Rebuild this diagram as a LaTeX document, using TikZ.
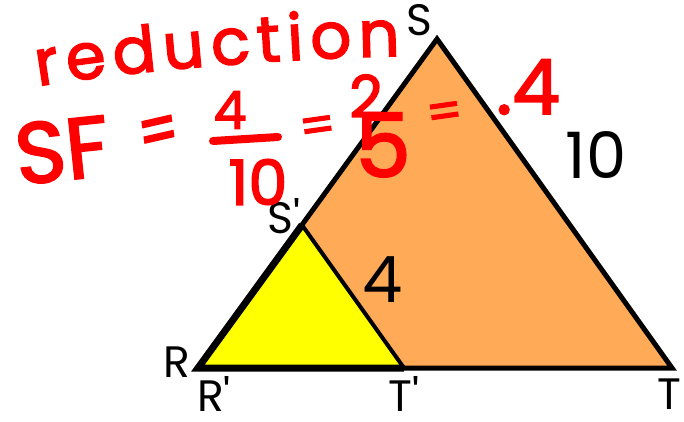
\documentclass[tikz,border=0pt]{standalone}
\usepackage{fontspec}
\setmainfont{Poppins}
\newfontfamily\handfont[FakeBold=2.5]{Poppins}
\usetikzlibrary{decorations.text}
\definecolor{bigfill}{HTML}{FFAA57}
\definecolor{smallfill}{HTML}{FFFF00}
\definecolor{marker}{HTML}{FF0000}
\newcommand{\fsz}[1]{\fontsize{#1}{#1}\selectfont}
\newcommand{\pr}{\textquotesingle}
\begin{document}
\begin{tikzpicture}[
    x=1pt, y=-1pt,
    lbl/.style={inner sep=0pt, font=\fsz{44}},
    side/.style={inner sep=0pt, font=\fsz{64}},
    hand/.style={inner sep=0pt, text=marker, font=\handfont\fsz{#1}},
    hand/.default=60,
    pen/.style={draw=marker, line width=8pt, line cap=round}
]
    \useasboundingbox (0,0) rectangle (684,422);
    % vertices
    \coordinate (S) at (437,39);
    \coordinate (R) at (198,368);
    \coordinate (T) at (672,368);
    \coordinate (S') at (302,225);
    \coordinate (T') at (404,368);
    % triangles
    \filldraw[fill=bigfill, line width=5pt, line join=miter] (R) -- (S) -- (T) -- cycle;
    \fill[smallfill] (R) -- (S') -- (T') -- cycle;
    \draw[line width=4pt] (S') -- (T');
    \draw[line width=7pt, line join=miter] (S') -- (R) -- (T');
    % labels
    \node[lbl] (labS) at (419,20) {S};
    \node[lbl] (labSp) at (284,216) {S\pr};
    \node[lbl] (labR) at (177,362) {R};
    \node[lbl] (labRp) at (214,394) {R\pr};
    \node[lbl] (labTp) at (404,394) {T\pr};
    \node[lbl] (labT) at (669,394) {T};
    \node[side] (len10) at (596,155) {10};
    \node[side] (len4) at (383,280) {4};
    % handwriting
    \path[decorate, decoration={text along path,
        text={|\handfont\fsz{64}|reduction}, text color=marker,
        text align={fit to path}}]
        (38,86) .. controls (150,68) and (300,58) .. (400,56);
    \node[hand=86, rotate=6] (sf) at (62,150) {SF};
    \node[hand=56, yscale=1.3, rotate=10] (eq1) at (159,137) {=};
    \node[hand=52] (num4) at (230,110) {4};
    \node[hand=62] (den10) at (258,182) {10};
    \coordinate (barL) at (213,141);
    \coordinate (barR) at (278,137);
    \draw[pen] (barL) -- (barR);
    \node[hand=50, rotate=8] (eq2) at (318,130) {=};
    \node[hand=58] (num2) at (366,96) {2};
    \node[hand=88] (den5) at (383,145) {5};
    \node[hand=50, rotate=8] (eq3) at (445,116) {=};
    \node[hand=76, anchor=base west] (dec) at (496,114) {.4};
\end{tikzpicture}
\end{document}
